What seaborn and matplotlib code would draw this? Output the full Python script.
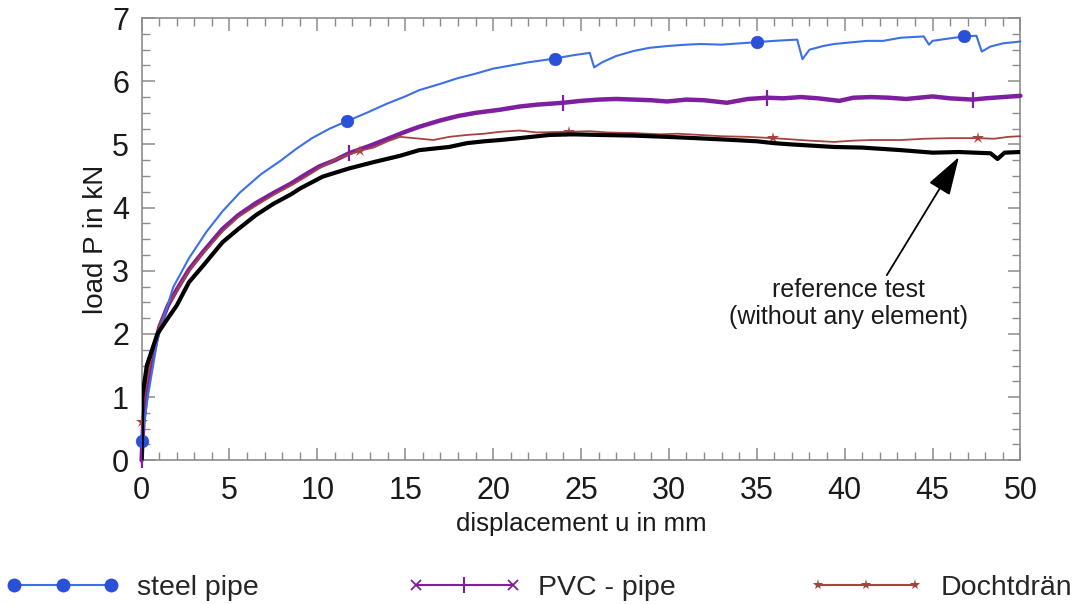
import numpy as np
import pandas as pd
import seaborn as sns
import matplotlib.pyplot as plt
from matplotlib.lines import Line2D
from matplotlib.legend_handler import HandlerBase, HandlerLine2D
from matplotlib.ticker import MultipleLocator

# values (displacement u in mm, load P in kN)
steel_u = [0.0, 0.35, 0.9, 1.2, 1.8, 2.7, 3.7, 4.6, 5.6, 6.8, 7.9, 8.8, 9.7, 10.7, 11.7,
           12.8, 14.0, 15.0, 15.8, 17.0, 18.0, 19.0, 20.0, 21.0, 22.0, 23.5, 24.5, 25.5,
           25.75, 26.2, 27.0, 28.0, 28.9, 30.0, 31.0, 31.8, 33.0, 34.0, 35.0, 36.0, 37.3,
           37.6, 38.0, 38.8, 39.4, 40.5, 41.3, 42.2, 43.2, 44.5, 44.8, 45.0, 46.0, 46.8,
           47.5, 47.8, 48.3, 49.0, 50.0]
steel_p = [0.30, 1.00, 1.90, 2.20, 2.74, 3.20, 3.62, 3.94, 4.24, 4.53, 4.74, 4.93, 5.10, 5.25, 5.37,
           5.50, 5.65, 5.76, 5.86, 5.96, 6.05, 6.12, 6.20, 6.25, 6.30, 6.36, 6.41, 6.45,
           6.22, 6.30, 6.40, 6.48, 6.53, 6.56, 6.58, 6.59, 6.58, 6.60, 6.62, 6.64, 6.66,
           6.35, 6.50, 6.56, 6.59, 6.62, 6.64, 6.64, 6.69, 6.71, 6.58, 6.64, 6.68, 6.71,
           6.72, 6.47, 6.55, 6.60, 6.63]
steel_marks = [0.0, 11.7, 23.5, 35.0, 46.8]

pvc_u = [0.0, 0.1, 0.3, 0.6, 1.0, 1.5, 2.0, 2.7, 3.5, 4.6, 5.5, 6.5, 7.5, 8.5, 9.3, 10.1,
         11.0, 11.8, 13.0, 14.1, 15.0, 15.8, 17.0, 18.0, 19.0, 20.4, 21.5, 22.5, 24.0,
         25.0, 26.0, 27.0, 28.0, 29.0, 29.9, 31.0, 32.0, 33.3, 34.5, 35.6, 36.5, 37.5,
         38.5, 39.7, 40.5, 41.5, 42.5, 43.5, 45.0, 46.0, 47.3, 48.0, 49.0, 50.0]
pvc_p = [0.00, 0.60, 1.10, 1.60, 2.10, 2.45, 2.70, 3.02, 3.30, 3.66, 3.88, 4.07, 4.23, 4.38, 4.52, 4.65,
         4.75, 4.86, 4.98, 5.10, 5.20, 5.28, 5.38, 5.45, 5.50, 5.55, 5.60, 5.63, 5.66,
         5.69, 5.71, 5.72, 5.71, 5.70, 5.68, 5.71, 5.70, 5.66, 5.72, 5.74, 5.73, 5.75,
         5.73, 5.69, 5.74, 5.75, 5.74, 5.72, 5.76, 5.73, 5.71, 5.73, 5.75, 5.77]
pvc_marks = [0.0, 11.8, 24.0, 35.6, 47.3]

docht_u = [0.0, 0.2, 0.5, 1.0, 1.5, 2.0, 2.7, 3.5, 4.6, 5.5, 6.5, 7.5, 8.5, 9.3, 10.1, 11.0,
           12.4, 13.2, 14.0, 14.7, 15.5, 16.6, 17.5, 18.5, 19.5, 20.4, 21.5, 22.5, 24.3,
           25.5, 26.5, 28.0, 29.5, 30.5, 31.8, 33.0, 34.5, 35.9, 37.0, 38.0, 39.4, 40.5,
           41.5, 43.2, 44.5, 46.0, 47.6, 48.5, 49.3, 50.0]
docht_p = [0.60, 1.10, 1.55, 2.12, 2.45, 2.68, 3.00, 3.28, 3.62, 3.85, 4.03, 4.20, 4.35, 4.48, 4.62, 4.76,
           4.90, 4.95, 5.05, 5.12, 5.10, 5.07, 5.12, 5.15, 5.17, 5.20, 5.22, 5.19, 5.20,
           5.21, 5.19, 5.18, 5.16, 5.17, 5.15, 5.13, 5.12, 5.10, 5.08, 5.06, 5.04, 5.06,
           5.07, 5.07, 5.09, 5.10, 5.10, 5.09, 5.12, 5.13]
docht_marks = [0.0, 12.4, 24.3, 35.9, 47.6]

ref_u = [0.0, 0.04, 0.3, 0.9, 1.5, 2.0, 2.7, 3.5, 4.6, 5.5, 6.5, 7.5, 8.5, 9.0, 10.3, 11.8,
         13.2, 14.7, 15.8, 17.5, 18.5, 19.5, 20.4, 21.5, 23.2, 24.5, 26.1, 28.0, 29.9,
         31.5, 33.7, 35.0, 36.0, 37.0, 39.4, 41.0, 43.2, 45.0, 46.5, 48.3, 48.7, 49.1, 50.0]
ref_p = [0.00, 1.00, 1.50, 2.00, 2.25, 2.45, 2.82, 3.08, 3.45, 3.66, 3.88, 4.06, 4.21, 4.30, 4.49, 4.62,
         4.72, 4.82, 4.91, 4.96, 5.02, 5.05, 5.07, 5.10, 5.15, 5.16, 5.15, 5.14, 5.12,
         5.10, 5.07, 5.05, 5.02, 5.00, 4.96, 4.95, 4.91, 4.87, 4.88, 4.86, 4.77, 4.87, 4.88]

labels = ['steel pipe', 'PVC - pipe', 'Dochtdrän']
BLUE, BLUE_MK = '#3d6fe6', '#2a4fd8'
PURPLE = '#7e1fa0'
RED = '#a5443e'

sns.set_theme(style='ticks')
plt.rcParams['font.family'] = ['Liberation Sans', 'DejaVu Sans']

fig, ax = plt.subplots(figsize=(10.89, 6.04), dpi=100)
fig.subplots_adjust(left=0.130, right=0.937, top=0.970, bottom=0.238)


def marks(u, at):
    return [u.index(v) for v in at]


sns.lineplot(x=pvc_u, y=pvc_p, ax=ax, estimator=None, sort=False, color=PURPLE, lw=3.2,
             marker='|', markersize=12, mew=1.6, mec=PURPLE, clip_on=False,
             markevery=marks(pvc_u, pvc_marks), zorder=3)
sns.lineplot(x=docht_u, y=docht_p, ax=ax, estimator=None, sort=False, color=RED, lw=1.3,
             marker='*', markersize=9, mew=0, mfc=RED, mec=RED, clip_on=False,
             markevery=marks(docht_u, docht_marks), zorder=4)
sns.lineplot(x=steel_u, y=steel_p, ax=ax, estimator=None, sort=False, color=BLUE, lw=1.5,
             marker='o', markersize=9, mfc=BLUE_MK, mec=BLUE_MK, mew=0.5, clip_on=False,
             markevery=marks(steel_u, steel_marks), zorder=5)
sns.lineplot(x=ref_u, y=ref_p, ax=ax, estimator=None, sort=False, color='black', lw=3, zorder=6)

ax.set_xlim(0, 50)
ax.set_ylim(0, 7)
ax.xaxis.set_major_locator(MultipleLocator(5))
ax.xaxis.set_minor_locator(MultipleLocator(1))
ax.yaxis.set_major_locator(MultipleLocator(1))
ax.yaxis.set_minor_locator(MultipleLocator(0.25))
ax.tick_params(which='both', direction='in', top=True, right=True, color='#8c8c8c',
               labelsize=22, labelcolor='#1a1a1a')
ax.tick_params(which='major', length=9, width=1.1)
ax.tick_params(which='minor', length=6, width=1.0)
ax.tick_params(axis='x', pad=11)
ax.tick_params(axis='y', pad=9)
for s in ax.spines.values():
    s.set_color('#8c8c8c')
    s.set_linewidth(1.2)

ax.set_xlabel('displacement u in mm', fontsize=18.5, color='#1a1a1a', labelpad=5)
ax.set_ylabel('load P in kN', fontsize=20, color='#1a1a1a', labelpad=2)

ax.annotate('', xy=(46.5, 4.80), xytext=(42.4, 2.93),
            arrowprops=dict(arrowstyle='-|>,head_length=1.2,head_width=0.38', color='black',
                            lw=1.3, mutation_scale=20, shrinkA=0, shrinkB=0))
ax.text(40.2, 2.48, 'reference test\n(without any element)', ha='center', va='center',
        fontsize=18, color='#1a1a1a', linespacing=1.15)


class PvcHandler(HandlerBase):
    # line with 'x' at the ends and a vertical tick in the middle
    def create_artists(self, legend, orig_handle, xdescent, ydescent, width, height, fontsize, trans):
        x0, x1 = -xdescent, width - xdescent
        y = height / 2 - ydescent
        line = Line2D([x0, x1], [y, y], color=PURPLE, lw=1.5, transform=trans)
        ends = Line2D([x0, x1], [y, y], ls='none', marker='x', color=PURPLE, ms=7, mew=1.3,
                      transform=trans)
        mid = Line2D([(x0 + x1) / 2], [y], ls='none', marker='|', color=PURPLE, ms=11, mew=1.5,
                     transform=trans)
        return [line, ends, mid]


handles = [
    Line2D([], [], color=BLUE, lw=1.5, marker='o', ms=9, mfc=BLUE_MK, mec=BLUE_MK),
    Line2D([], [], color=PURPLE, lw=1.5),
    Line2D([], [], color=RED, lw=1.5, marker='*', ms=8, mew=0),
]
hmap = {handles[0]: HandlerLine2D(marker_pad=0), handles[1]: PvcHandler(),
        handles[2]: HandlerLine2D(marker_pad=0)}
for h, lab, x0 in zip(handles, labels, [0.013, 0.382, 0.751]):
    fig.legend(handles=[h], labels=[lab], loc='center left', bbox_to_anchor=(x0, 0.027),
               frameon=False, fontsize=20.5, handlelength=3.4, handletextpad=0.9, numpoints=3,
               borderpad=0, borderaxespad=0, handler_map=hmap)

fig.savefig('out.png', dpi=100)
